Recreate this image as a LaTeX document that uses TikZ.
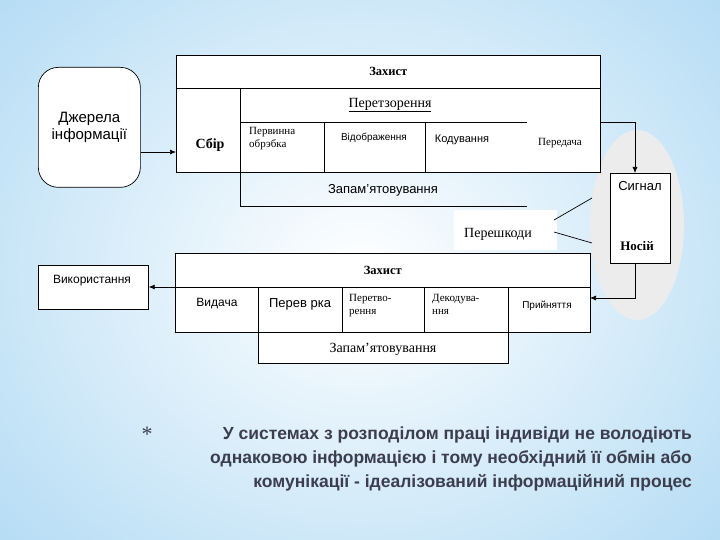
\documentclass[tikz,border=0pt]{standalone}
\usepackage{fontspec}
\setmainfont{Liberation Serif}
\newfontfamily\arial{Liberation Sans}
\usetikzlibrary{arrows.meta}
\definecolor{bgblue}{RGB}{170,215,243}
\definecolor{txt}{RGB}{60,62,78}
\begin{document}
\begin{tikzpicture}[x=1pt,y=-1pt,
  cell/.style={draw=black,line width=0.7pt,fill=white},
  lbl/.style={font=\fontsize{11}{13}\selectfont,inner sep=0pt},
  sans/.style={font=\arial\fontsize{11}{13}\selectfont,inner sep=0pt},
  arr/.style={-{Latex[length=6pt,width=5pt]},line width=0.7pt}]
\useasboundingbox (0,0) rectangle (720,540);
\shade[inner color=white,outer color=bgblue] (-200,-200) rectangle (920,740);
\fill[gray!15] (637,225) ellipse (47 and 95);
% top block
\node[cell,minimum width=424,minimum height=33,anchor=north west] (zt) at (176,55) {};
\node[lbl,font=\bfseries\fontsize{12.5}{14}\selectfont] at (zt) {Захист};
\draw[line width=0.7pt,fill=white] (176,88) rectangle (600,172);
\node[cell,rounded corners=20pt,minimum width=102,minimum height=120,anchor=north west] (dj) at (38,67) {};
\node[sans,font=\arial\fontsize{15}{17}\selectfont,align=center] at (dj) {Джерела\\інформації};
\node[lbl,font=\bfseries\fontsize{14}{16}\selectfont] (sb) at (210,145) {Сбір};
\draw[line width=0.7pt] (240,88) -- (240,206) -- (527,206);
\draw[line width=0.7pt] (240,122) -- (527,122);
\draw[line width=0.7pt] (324,122) -- (324,172) (425,122) -- (425,172);
\node[lbl,font=\fontsize{14}{16}\selectfont] (pt) at (390,105) {\underline{Перетзорення}};
\node[lbl,align=left,anchor=north west] (pv) at (249,127) {Первинна\\обрэбка};
\node[sans,font=\arial\fontsize{10}{12}\selectfont] (vd) at (374,138) {Відображення};
\node[sans] (kd) at (462,140) {Кодування};
\node[lbl] (pd) at (560,143) {Передача};
\node[sans,font=\arial\fontsize{13}{15}\selectfont] (zp) at (383,190) {Запам’ятовування};
\draw[arr] (dj.east |- 0,152) -- (176,152);
% signal
\node[cell,minimum width=60,minimum height=90,anchor=north west] (sg) at (610,173) {};
\node[sans,font=\arial\fontsize{13}{15}\selectfont] at (640,186) {Сигнал};
\node[lbl,font=\bfseries\fontsize{13}{15}\selectfont] at (637,246) {Носій};
\coordinate (c1) at (635,122);
\draw[arr] (600,122) -- (c1) -- (c1 |- sg.north);
% noise
\node[fill=white,minimum width=103,minimum height=40,inner sep=0pt] (nz) at (505,230) {};
\node[lbl,font=\fontsize{14}{16}\selectfont] at (498,234) {Перешкоди};
\draw[line width=0.7pt] (554,220) -- (592,198) (554,232) -- (592,243);
% bottom block
\node[cell,minimum width=415,minimum height=34,anchor=north west] (zb) at (175,253) {};
\node[lbl,font=\bfseries\fontsize{12.5}{14}\selectfont] at (zb) {Захист};
\draw[line width=0.7pt,fill=white] (175,287) rectangle (590,332);
\draw[line width=0.7pt,fill=white] (258,332) rectangle (508,363);
\draw[line width=0.7pt] (258,287) -- (258,332) (342,287) -- (342,332) (424,287) -- (424,332) (508,287) -- (508,332);
\node[sans,font=\arial\fontsize{12}{14}\selectfont] at (217,304) {Видача};
\node[sans,font=\arial\fontsize{13}{15}\selectfont] at (300,304) {Перев рка};
\node[lbl,align=left,anchor=north west] at (349,294) {Перетво-\\рення};
\node[lbl,align=left,anchor=north west] at (432,294) {Декодува-\\ння};
\node[sans,font=\arial\fontsize{10}{12}\selectfont] at (547,306) {Прийняття};
\node[lbl,font=\fontsize{14}{16}\selectfont] at (383,349) {Запам’ятовування};
\node[cell,minimum width=110,minimum height=44,anchor=north west] (vk) at (38,265) {};
\node[sans,font=\arial\fontsize{12}{14}\selectfont] at (92,281) {Використання};
\draw[arr] (175,287) -- (vk.east |- 0,287);
\coordinate (c2) at (635,298);
\draw[arr] (c2 |- sg.south) -- (c2) -- (590,298);
% bottom text
\node[text=txt,font=\fontsize{22}{24}\selectfont] at (147,434) {*};
\node[text=txt,font=\arial\bfseries\fontsize{17.5}{24}\selectfont,align=right,anchor=north east,inner sep=0pt] at (692,427)
{У системах з розподілом праці індивіди  не володіють\\однаковою інформацією і тому необхідний її обмін або\\комунікації - ідеалізований інформаційний процес};
\end{tikzpicture}
\end{document}
